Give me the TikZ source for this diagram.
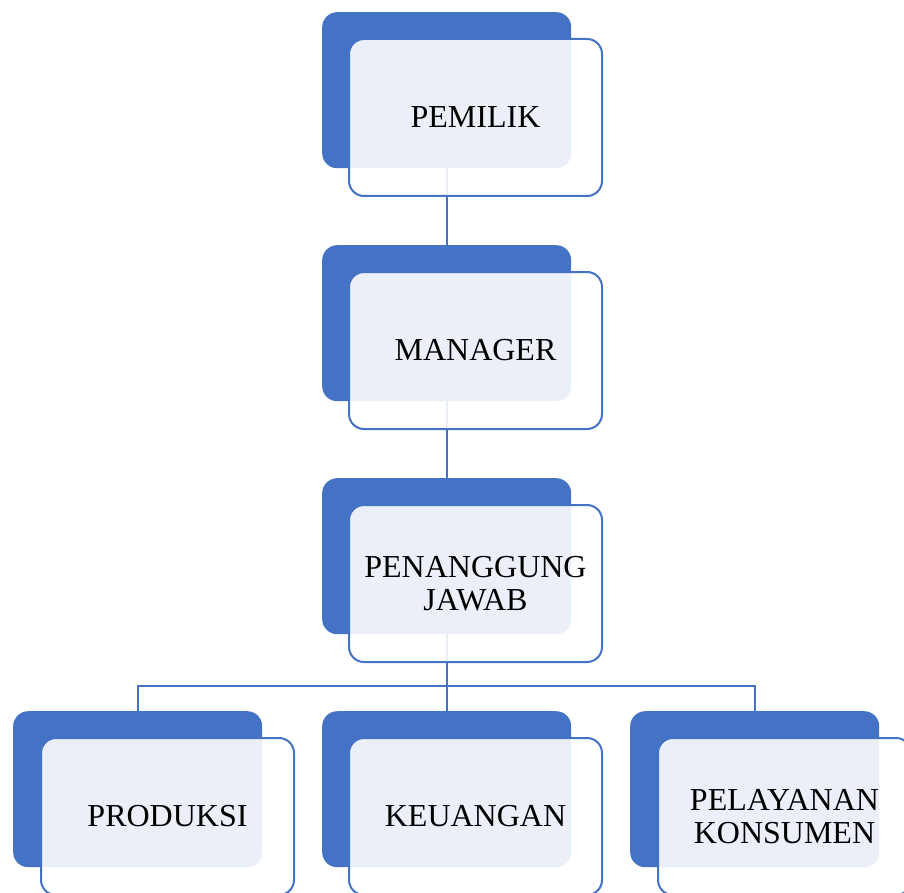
\documentclass[tikz,border=0pt]{standalone}
\usepackage{fontspec}
\setmainfont{Liberation Serif}
\usetikzlibrary{backgrounds}
\definecolor{cblue}{HTML}{4472C4}
\begin{document}
\begin{tikzpicture}[x=1pt,y=-1pt,
  backbox/.style={rectangle, rounded corners=15, fill=cblue, minimum width=249, minimum height=156, inner sep=0, anchor=north west},
  frontbox/.style={rectangle, rounded corners=15, draw=cblue, line width=2, fill=white, fill opacity=0.89, text opacity=1, minimum width=253, minimum height=157, inner sep=0, anchor=north west, align=center, font=\fontsize{32}{33}\selectfont},
  conn/.style={draw=cblue, line width=2}]
\useasboundingbox (0,0) rectangle (904,893);
\clip (0,0) rectangle (904,893);
% back boxes
\node[backbox] (b1) at (322,12) {};
\node[backbox] (b2) at (322,245) {};
\node[backbox] (b3) at (322,478) {};
\node[backbox] (b4) at (13,711) {};
\node[backbox] (b5) at (322,711) {};
\node[backbox] (b6) at (630,711) {};
% front boxes
\node[frontbox] (f1) at (348,38) {PEMILIK};
\node[frontbox] (f2) at (348,271) {MANAGER};
\node[frontbox] (f3) at (348,504) {PENANGGUNG\\JAWAB};
\node[frontbox] (f4) at (40,737) {PRODUKSI};
\node[frontbox] (f5) at (348,737) {KEUANGAN};
\node[frontbox] (f6) at (657,737) {PELAYANAN\\KONSUMEN};
% connectors
\coordinate (bus) at (446.5,686);
\begin{pgfonlayer}{background}
\draw[conn] (b1.south) -- (b2.north);
\draw[conn] (b2.south) -- (b3.north);
\draw[conn] (b3.south) -- (b5.north);
\draw[conn] (b4.north) |- (bus) -| (b6.north);
\end{pgfonlayer}
\end{tikzpicture}
\end{document}
